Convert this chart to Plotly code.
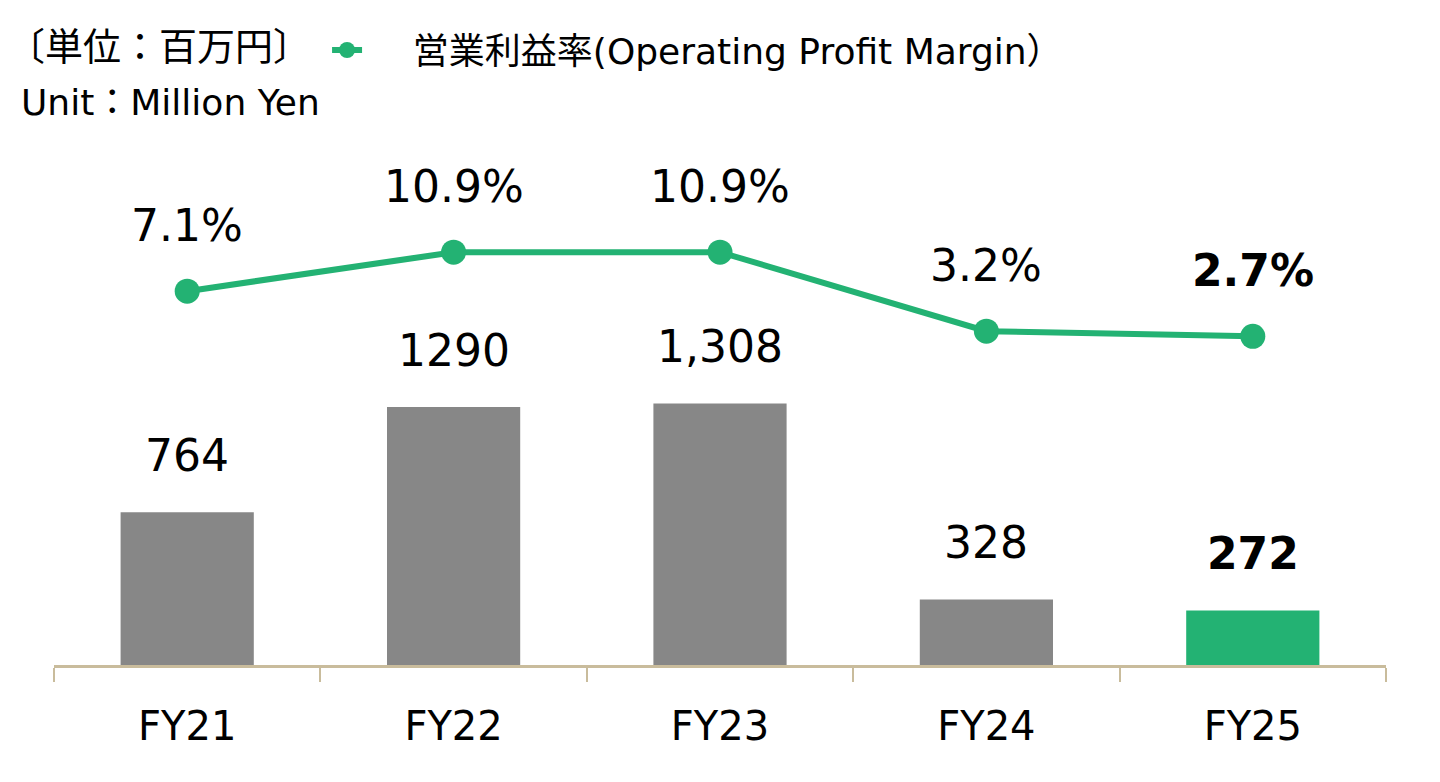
import plotly.graph_objects as go

categories = ["FY21", "FY22", "FY23", "FY24", "FY25"]
profit = [764, 1290, 1308, 328, 272]
profit_labels = ["764", "1290", "1,308", "328", "<b>272</b>"]
margin = [7.1, 10.9, 10.9, 3.2, 2.7]
margin_labels = ["7.1%", "10.9%", "10.9%", "3.2%", "<b>2.7%</b>"]
bar_colors = ["#878787", "#878787", "#878787", "#878787", "#23B273"]

GREEN = "#23B273"
AXIS = "#C9BC9C"
FONT = "DejaVu Sans, Noto Sans CJK JP, sans-serif"

fig = go.Figure()
fig.add_trace(go.Bar(
    x=categories, y=profit, marker=dict(color=bar_colors, line=dict(width=0)),
    showlegend=False, hoverinfo="skip",
))
fig.add_trace(go.Scatter(
    x=categories, y=margin, yaxis="y2", mode="lines+markers",
    line=dict(color=GREEN, width=6), marker=dict(color=GREEN, size=25),
    name="\u00a0\u00a0\u00a0\u00a0営業利益率(Operating Profit Margin）", showlegend=True,
))

annotations = []
for c, v, t in zip(categories, profit, profit_labels):
    annotations.append(dict(x=c, y=v, xref="x", yref="y", text=t, showarrow=False,
                            yanchor="middle", yshift=57,
                            font=dict(size=44, color="black", family=FONT)))
for c, v, t in zip(categories, margin, margin_labels):
    annotations.append(dict(x=c, y=v, xref="x", yref="y2", text=t, showarrow=False,
                            yanchor="middle", yshift=66,
                            font=dict(size=44, color="black", family=FONT)))
annotations.append(dict(x=-0.037, y=1.2, xref="paper", yref="paper", text="〔単位：百万円〕",
                        showarrow=False, xanchor="left", yanchor="middle",
                        font=dict(size=38, color="black", family=FONT)))
annotations.append(dict(x=-0.026, y=1.093, xref="paper", yref="paper", text="Unit：Million Yen",
                        showarrow=False, xanchor="left", yanchor="middle",
                        font=dict(size=36, color="black", family=FONT)))

fig.update_layout(
    width=1440, height=782,
    margin=dict(l=54, r=54, t=150, b=117),
    paper_bgcolor="white", plot_bgcolor="white",
    bargap=0.5,
    font=dict(family=FONT, color="black"),
    xaxis=dict(
        type="category", showline=True, linecolor=AXIS, linewidth=3,
        ticks="outside", tickson="boundaries", ticklen=14, tickwidth=2, tickcolor=AXIS,
        tickfont=dict(size=40, color="black", family=FONT), ticklabelstandoff=24,
        showgrid=False, zeroline=False,
    ),
    yaxis=dict(range=[0, 2575], visible=False, showgrid=False, zeroline=False),
    yaxis2=dict(range=[-29.34, 20.86], overlaying="y", visible=False, showgrid=False, zeroline=False),
    legend=dict(orientation="h", x=0.205, y=1.194, xanchor="left", yanchor="middle",
                font=dict(size=36, color="black", family=FONT), bgcolor="rgba(0,0,0,0)"),
    annotations=annotations,
)

fig.write_html("out.html", config={"displayModeBar": False},
               post_script="document.body.style.margin='0';document.body.style.overflow='hidden';")
